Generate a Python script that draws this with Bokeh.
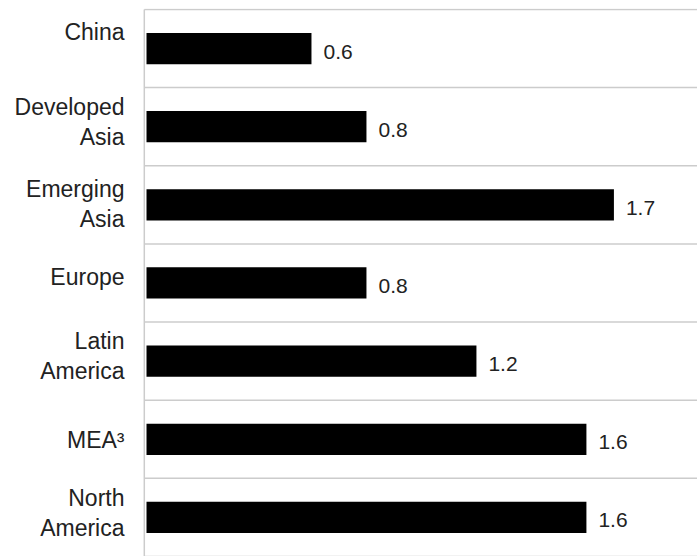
from bokeh.plotting import figure
from bokeh.models import ColumnDataSource, Range1d
from bokeh.core.properties import value
from bokeh.embed import file_html
from bokeh.resources import INLINE

# ---- data ----
categories = ["China", "Developed\nAsia", "Emerging\nAsia", "Europe",
              "Latin\nAmerica", "MEA\u00b3", "North\nAmerica"]
values = [0.6, 0.8, 1.7, 0.8, 1.2, 1.6, 1.6]
value_labels = ["0.6", "0.8", "1.7", "0.8", "1.2", "1.6", "1.6"]

# ---- layout / style (not data) ----
label_dy = [-17, -5, -1, -6, -5, 1, -4]   # vertical nudges of category labels (px, + is down)
FONT = "Liberation Sans"
TEXT_COLOR = "#222222"
GRID_COLOR = "#cccccc"

n = len(categories)
ypos = [n - i - 0.5 for i in range(n)]
x_lo, x_hi = -0.531, 2.004

src = ColumnDataSource(dict(
    y=ypos, v=values, vl=value_labels, cat=categories, dy=label_dy,
))

p = figure(width=697, height=556, x_range=Range1d(x_lo, x_hi),
           y_range=Range1d(0, n + 0.012),
           x_axis_location=None, y_axis_location=None,
           output_backend="svg", toolbar_location=None,
           min_border=0, min_border_top=8)
p.grid.visible = False
p.outline_line_color = None
p.background_fill_color = "white"
p.border_fill_color = "white"

# horizontal separators between categories
bounds = list(range(n + 1))
axis_x = -0.008
p.segment(x0=[axis_x] * len(bounds), x1=[x_hi] * len(bounds), y0=bounds, y1=bounds,
          line_color=GRID_COLOR, line_width=1.5)
# vertical axis line
p.segment(x0=[axis_x], x1=[axis_x], y0=[0], y1=[n], line_color=GRID_COLOR, line_width=1.5)

# bars
p.hbar(y="y", left=0, right="v", height=0.4, source=src,
       fill_color="black", line_color=None)

# value labels
p.text(x="v", y="y", text="vl", source=src, x_offset=12, y_offset=3,
       text_font=value(FONT), text_font_size="21px", text_color=TEXT_COLOR,
       text_align="left", text_baseline="middle")

# category labels
p.text(x=-0.08, y="y", text="cat", source=src, y_offset="dy",
       text_font=value(FONT), text_font_size="23px", text_color=TEXT_COLOR,
       text_align="right", text_baseline="middle", text_line_height=1.15)

open("out.html", "w").write(file_html(p, INLINE))
